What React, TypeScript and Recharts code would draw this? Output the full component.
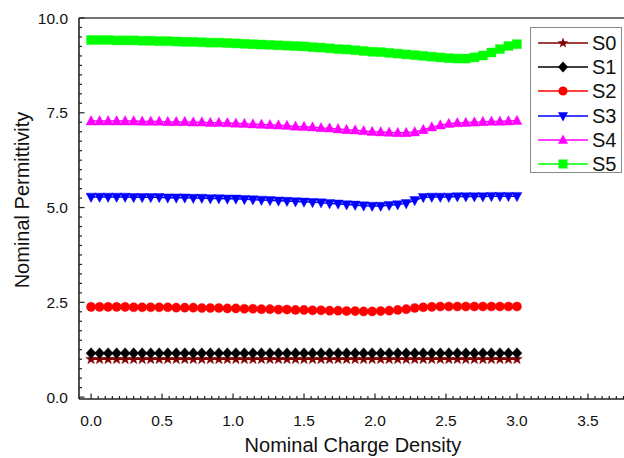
import { LineChart, Line, XAxis, YAxis, ReferenceLine } from "recharts";

// Nominal charge density sample points
const CHARGE = [
  0, 0.06, 0.12, 0.18, 0.24, 0.3, 0.36, 0.42, 0.48, 0.54, 0.6,
  0.66, 0.72, 0.78, 0.84, 0.9, 0.96, 1.02, 1.08, 1.14, 1.2,
  1.26, 1.32, 1.38, 1.44, 1.5, 1.56, 1.62, 1.68, 1.74, 1.8,
  1.86, 1.92, 1.98, 2.04, 2.1, 2.16, 2.22, 2.28, 2.34, 2.4,
  2.46, 2.52, 2.58, 2.64, 2.7, 2.76, 2.82, 2.88, 2.94, 3.0,
];

const S0 = [
  1.0, 1.0, 1.0, 1.0, 1.0, 1.0, 1.0, 1.0, 1.0, 1.0, 1.0,
  1.0, 1.0, 1.0, 1.0, 1.0, 1.0, 1.0, 1.0, 1.0, 1.0,
  1.0, 1.0, 1.0, 1.0, 1.0, 1.0, 1.0, 1.0, 1.0, 1.0,
  1.0, 1.0, 1.0, 1.0, 1.0, 1.0, 1.0, 1.0, 1.0, 1.0,
  1.0, 1.0, 1.0, 1.0, 1.0, 1.0, 1.0, 1.0, 1.0, 1.0,
];

const S1 = [
  1.16, 1.16, 1.16, 1.16, 1.16, 1.16, 1.16, 1.16, 1.16, 1.16, 1.16,
  1.16, 1.16, 1.16, 1.16, 1.16, 1.16, 1.16, 1.16, 1.16, 1.16,
  1.16, 1.16, 1.16, 1.16, 1.16, 1.16, 1.16, 1.16, 1.16, 1.16,
  1.16, 1.16, 1.16, 1.16, 1.16, 1.16, 1.16, 1.16, 1.16, 1.16,
  1.16, 1.16, 1.16, 1.16, 1.16, 1.16, 1.16, 1.16, 1.16, 1.16,
];

const S2 = [
  2.38, 2.38, 2.38, 2.38, 2.38, 2.37, 2.37, 2.37, 2.37, 2.37, 2.36,
  2.36, 2.36, 2.35, 2.35, 2.35, 2.34, 2.34, 2.33, 2.33, 2.32,
  2.32, 2.31, 2.31, 2.3, 2.3, 2.29, 2.29, 2.28, 2.28, 2.27,
  2.27, 2.26, 2.26, 2.27, 2.28, 2.3, 2.32, 2.35, 2.37, 2.38,
  2.39, 2.39, 2.39, 2.39, 2.39, 2.39, 2.39, 2.39, 2.39, 2.39,
];

const S3 = [
  5.28, 5.28, 5.28, 5.28, 5.28, 5.27, 5.27, 5.27, 5.27, 5.26, 5.26,
  5.26, 5.25, 5.25, 5.24, 5.24, 5.23, 5.23, 5.22, 5.21, 5.2,
  5.19, 5.18, 5.17, 5.16, 5.15, 5.14, 5.13, 5.11, 5.1, 5.08,
  5.07, 5.05, 5.04, 5.04, 5.06, 5.08, 5.11, 5.19, 5.27, 5.28,
  5.28, 5.28, 5.29, 5.29, 5.29, 5.29, 5.3, 5.3, 5.3, 5.3,
];

const S4 = [
  7.28, 7.28, 7.28, 7.28, 7.28, 7.28, 7.27, 7.27, 7.27, 7.26, 7.26,
  7.26, 7.25, 7.25, 7.24, 7.24, 7.23, 7.22, 7.21, 7.2, 7.19,
  7.18, 7.17, 7.16, 7.14, 7.13, 7.12, 7.1, 7.09, 7.07, 7.05,
  7.04, 7.02, 7.0, 6.99, 6.98, 6.97, 6.97, 6.99, 7.05, 7.12,
  7.17, 7.21, 7.23, 7.24, 7.25, 7.26, 7.27, 7.27, 7.28, 7.29,
];

const S5 = [
  9.42, 9.42, 9.42, 9.41, 9.41, 9.41, 9.4, 9.4, 9.39, 9.39, 9.38,
  9.37, 9.37, 9.36, 9.35, 9.35, 9.34, 9.33, 9.32, 9.31, 9.3,
  9.29, 9.28, 9.27, 9.26, 9.25, 9.23, 9.22, 9.2, 9.18, 9.17,
  9.15, 9.13, 9.11, 9.1, 9.08, 9.06, 9.04, 9.02, 9.0, 8.98,
  8.96, 8.94, 8.93, 8.93, 8.96, 9.01, 9.09, 9.18, 9.26, 9.31,
];

// labelled ticks; minor ticks are filled in between
const X_MAJOR = [0, 0.5, 1, 1.5, 2, 2.5, 3, 3.5];
const Y_MAJOR = [0, 2.5, 5, 7.5, 10];

const X_TICKS: number[] = [];
for (let i = 0; i <= 75; i++) X_TICKS.push(+(i * 0.05).toFixed(2));
const Y_TICKS: number[] = [];
for (let i = 0; i <= 40; i++) Y_TICKS.push(i * 0.25);

const isMajor = (list: number[], v: number) => list.some((m) => Math.abs(m - v) < 1e-6);

type Shape = "star" | "diamond" | "circle" | "down" | "up" | "square";

const SERIES: { key: string; data: number[]; color: string; shape: Shape }[] = [
  { key: "S0", data: S0, color: "#800000", shape: "star" },
  { key: "S1", data: S1, color: "#000000", shape: "diamond" },
  { key: "S2", data: S2, color: "#ff0000", shape: "circle" },
  { key: "S3", data: S3, color: "#0000ff", shape: "down" },
  { key: "S4", data: S4, color: "#ff00ff", shape: "up" },
  { key: "S5", data: S5, color: "#00ff00", shape: "square" },
];

const rows = CHARGE.map((x, i) => {
  const row: Record<string, number> = { x };
  SERIES.forEach((s) => { row[s.key] = s.data[i]; });
  return row;
});

const FONT = '"Liberation Sans", Arial, sans-serif';
const AXIS = "#222";

function markerPath(shape: Shape, cx: number, cy: number) {
  switch (shape) {
    case "circle": {
      const r = 4.6;
      return `M${cx - r},${cy}a${r},${r} 0 1,0 ${2 * r},0a${r},${r} 0 1,0 ${-2 * r},0Z`;
    }
    case "square":
      return `M${cx - 4.5},${cy - 4.5}h9v9h-9Z`;
    case "up":
      return `M${cx},${cy - 5.5}L${cx + 5},${cy + 3.8}L${cx - 5},${cy + 3.8}Z`;
    case "down":
      return `M${cx},${cy + 5.5}L${cx + 5},${cy - 3.8}L${cx - 5},${cy - 3.8}Z`;
    case "diamond":
      return `M${cx},${cy - 5.5}L${cx + 5},${cy}L${cx},${cy + 5.5}L${cx - 5},${cy}Z`;
    case "star": {
      let d = "";
      for (let k = 0; k < 10; k++) {
        const r = k % 2 === 0 ? 5.5 : 2.3;
        const a = -Math.PI / 2 + (k * Math.PI) / 5;
        d += `${k === 0 ? "M" : "L"}${cx + r * Math.cos(a)},${cy + r * Math.sin(a)}`;
      }
      return d + "Z";
    }
  }
}

const makeDot = (shape: Shape, color: string) => (p: any) => {
  const { cx, cy, index } = p;
  if (cx == null || cy == null) return <g key={index} />;
  return <path key={index} d={markerPath(shape, cx, cy)} fill={color} stroke={color} strokeWidth={0.4} />;
};

const XTick = (p: any) => {
  const { x, y, payload } = p;
  const major = isMajor(X_MAJOR, payload.value);
  return (
    <g>
      <line x1={x} x2={x} y1={y} y2={y - (major ? 5.5 : 3)} stroke={AXIS} strokeWidth={1.2} />
      {major && (
        <text x={x} y={y + 27} textAnchor="middle" fontSize={15.5} fontFamily={FONT} fill="#111">
          {payload.value.toFixed(1)}
        </text>
      )}
    </g>
  );
};

const YTick = (p: any) => {
  const { x, y, payload } = p;
  const major = isMajor(Y_MAJOR, payload.value);
  return (
    <g>
      <line x1={x} x2={x + (major ? 5.5 : 3)} y1={y} y2={y} stroke={AXIS} strokeWidth={1.2} />
      {major && (
        <text x={x - 11} y={y + 5.5} textAnchor="end" fontSize={15.5} fontFamily={FONT} fill="#111">
          {payload.value.toFixed(1)}
        </text>
      )}
    </g>
  );
};

const XTitle = () => (
  <text x={353} y={452} textAnchor="middle" fontSize={20} fontFamily={FONT} fill="#111">
    Nominal Charge Density
  </text>
);

const YTitle = () => (
  <text x={29} y={200} transform="rotate(-90 29 200)" textAnchor="middle" fontSize={20} fontFamily={FONT} fill="#111">
    Nominal Permittivity
  </text>
);

function LegendBox() {
  return (
    <div
      style={{
        position: "absolute", left: 530, top: 27, width: 92, height: 146,
        border: "1.5px solid #8a8a8a", background: "#fff", paddingTop: 3,
        boxSizing: "border-box", fontFamily: FONT,
      }}
    >
      {SERIES.map((s) => (
        <div key={s.key} style={{ display: "flex", alignItems: "center", height: 24.2, paddingLeft: 7 }}>
          <svg width={50} height={24} style={{ display: "block" }}>
            <line x1={0} x2={50} y1={12} y2={12} stroke={s.color} strokeWidth={1.6} />
            <path d={markerPath(s.shape, 25, 12)} fill={s.color} />
          </svg>
          <span style={{ fontSize: 20, marginLeft: 4, color: "#111", lineHeight: "24px" }}>{s.key}</span>
        </div>
      ))}
    </div>
  );
}

export default function App() {
  return (
    <div style={{ position: "absolute", left: 0, top: 0, width: 624, height: 458, overflow: "hidden", background: "#fff" }}>
      <LineChart width={624} height={458} data={rows} margin={{ top: 18, right: 0, left: 0, bottom: 0 }}>
        <XAxis
          dataKey="x"
          type="number"
          domain={[-0.085, 3.754]}
          allowDataOverflow
          ticks={X_TICKS}
          interval={0}
          tickSize={0}
          tickMargin={0}
          tickLine={false}
          tick={XTick}
          height={59}
          axisLine={{ stroke: AXIS, strokeWidth: 1.6 }}
          label={<XTitle />}
        />
        <YAxis
          type="number"
          domain={[-0.05, 10]}
          allowDataOverflow
          ticks={Y_TICKS}
          interval={0}
          tickSize={0}
          tickMargin={0}
          tickLine={false}
          tick={YTick}
          width={79}
          axisLine={{ stroke: AXIS, strokeWidth: 1.6 }}
          label={<YTitle />}
        />
        <ReferenceLine y={10} stroke="#444" strokeWidth={1.6} />
        {SERIES.map((s) => (
          <Line
            key={s.key}
            dataKey={s.key}
            type="linear"
            stroke={s.color}
            strokeWidth={1.5}
            dot={makeDot(s.shape, s.color)}
            activeDot={false}
            isAnimationActive={false}
          />
        ))}
      </LineChart>
      <LegendBox />
    </div>
  );
}
